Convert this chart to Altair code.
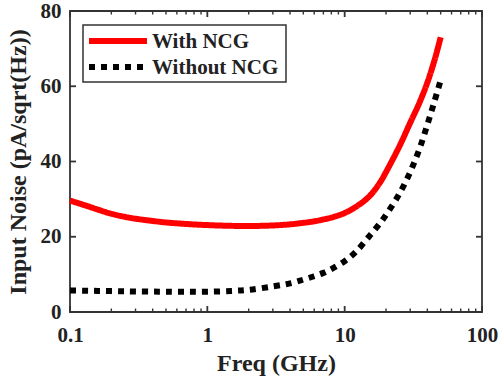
import altair as alt
import pandas as pd

freq = [0.1, 0.13, 0.16, 0.2, 0.25, 0.3, 0.4, 0.5, 0.7, 1, 1.5, 2, 3, 4, 5, 6, 7, 8, 10, 12, 15, 18, 20, 25, 30, 35, 40, 45, 50]
with_ncg = [29.6, 28.3, 27.2, 26.1, 25.3, 24.8, 24.2, 23.8, 23.4, 23.1, 22.9, 22.85, 23.0, 23.3, 23.7, 24.1, 24.6, 25.1, 26.3, 27.9, 30.6, 34.3, 37.2, 44.0, 50.3, 55.6, 61.0, 66.8, 73.0]
without_ncg = [5.7, 5.65, 5.6, 5.55, 5.5, 5.45, 5.42, 5.4, 5.4, 5.4, 5.6, 5.9, 6.8, 7.6, 8.6, 9.5, 10.4, 11.4, 13.5, 15.9, 20.0, 23.5, 25.8, 31.4, 37.2, 43.3, 49.8, 55.9, 61.6]
series_names = ["With NCG", "Without NCG"]
x_ticks = [0.1, 1, 10, 100]
x_minor = [0.2, 0.3, 0.4, 0.5, 0.6, 0.7, 0.8, 0.9, 2, 3, 4, 5, 6, 7, 8, 9, 20, 30, 40, 50, 60, 70, 80, 90]
y_ticks = [0, 20, 40, 60, 80]
y_inner = [20, 40, 60]

W, H = 412, 301
FONT = "Liberation Serif"
TXT = "#222222"
COLORS = ["#ff0000", "#000000"]
DASHES = [[1, 0], [6, 6]]

rows = []
for f, a, b in zip(freq, with_ncg, without_ncg):
    rows.append({"freq": f, "noise": a, "series": series_names[0]})
    rows.append({"freq": f, "noise": b, "series": series_names[1]})
df = pd.DataFrame(rows)

xscale = alt.Scale(type="log", domain=[0.1, 100], nice=False)
yscale = alt.Scale(domain=[0, 80], nice=False, zero=False)

lines = alt.Chart(df).mark_line(strokeWidth=6, strokeCap="butt", interpolate="catmull-rom").encode(
    x=alt.X("freq:Q", scale=xscale,
            axis=alt.Axis(values=x_ticks, format="~g", title="Freq (GHz)", domain=False, ticks=False,
                          grid=False, labelPadding=12, titlePadding=6, labelFlush=False)),
    y=alt.Y("noise:Q", scale=yscale,
            axis=alt.Axis(values=y_ticks, title="Input Noise (pA/sqrt(Hz))", domain=False, ticks=False,
                          grid=False, labelPadding=9, titlePadding=10, labelFlush=False)),
    color=alt.Color("series:N", scale=alt.Scale(domain=series_names, range=COLORS), legend=None),
    strokeDash=alt.StrokeDash("series:N", scale=alt.Scale(domain=series_names, range=DASHES), legend=None),
)

tick_color = "#333333"
xmaj = pd.DataFrame({"freq": x_ticks})
xmin = pd.DataFrame({"freq": x_minor})
ymaj = pd.DataFrame({"noise": y_inner})

# tick lengths expressed in axis units (major ~6 px, minor ~3.5 px)
maj_y = 80 * 6 / H
min_y = 80 * 3.5 / H
tick_x_factor = 10 ** (3 * 6 / W)


def xrule(data, y0, y1, width):
    return alt.Chart(data).mark_rule(strokeWidth=width, color=tick_color).encode(
        x=alt.X("freq:Q", scale=xscale),
        y=alt.Y(datum=y0, scale=yscale), y2=alt.Y2(datum=y1))


def yrule(x0, x1):
    return alt.Chart(ymaj).mark_rule(strokeWidth=1.8, color=tick_color).encode(
        y=alt.Y("noise:Q", scale=yscale),
        x=alt.X(datum=x0, scale=xscale), x2=alt.X2(datum=x1))


ticks = [
    xrule(xmaj, 0, maj_y, 1.8), xrule(xmaj, 80, 80 - maj_y, 1.8),
    xrule(xmin, 0, min_y, 1.4), xrule(xmin, 80, 80 - min_y, 1.4),
    yrule(0.1, 0.1 * tick_x_factor), yrule(100, 100 / tick_x_factor),
]

# legend drawn as a framed box
leg_df = pd.DataFrame({"series": series_names})
legend_box = alt.Chart(leg_df.head(1)).mark_rect(fill="white", stroke="#333333", strokeWidth=1.5).encode(
    x=alt.value(13), x2=alt.value(216), y=alt.value(14), y2=alt.value(71))
legend_items = []
for i, name in enumerate(series_names):
    yy = 30 + 26 * i
    one = leg_df[leg_df["series"] == name]
    legend_items.append(
        alt.Chart(one).mark_rule(strokeWidth=6, strokeCap="butt", color=COLORS[i], strokeDash=DASHES[i]).encode(
            x=alt.value(19), x2=alt.value(77), y=alt.value(yy)))
    legend_items.append(
        alt.Chart(one).mark_text(align="left", baseline="middle", font=FONT, fontSize=21,
                                 fontWeight="bold", color=TXT).encode(
            x=alt.value(82), y=alt.value(yy + 1), text="series:N"))

chart = alt.layer(lines, *ticks, legend_box, *legend_items).properties(
    width=W, height=H,
    autosize=alt.AutoSizeParams(type="none"),
    padding={"left": 70, "top": 11, "right": 17, "bottom": 75},
    background="white",
).configure_view(
    stroke="#333333", strokeWidth=1.8
).configure_axis(
    labelFont=FONT, labelFontSize=21, labelFontWeight="bold", labelColor=TXT,
    titleFont=FONT, titleFontSize=24, titleFontWeight="bold", titleColor=TXT,
)

chart.save("out.html", embed_options={"renderer": "svg", "actions": False})
